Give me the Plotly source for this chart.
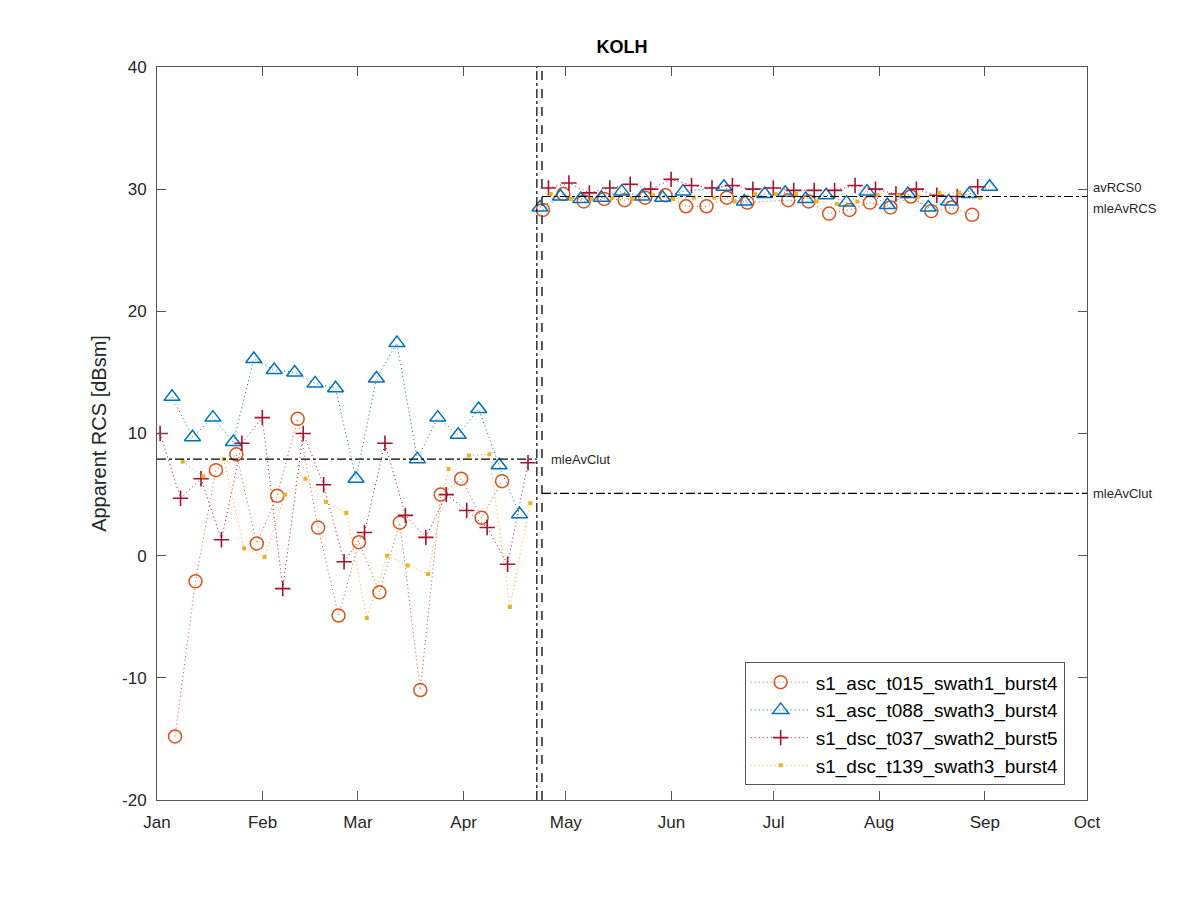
import plotly.graph_objects as go

YEAR = "2019"

# ---- data (dates as MM-DD, values in dBsm) ----
t015_left_dates = ["01-06","01-12","01-18","01-24","01-30","02-05","02-11","02-17","02-23",
                   "03-01","03-07","03-13","03-19","03-25","03-31","04-06","04-12"]
t015_left_vals = [-14.8, -2.1, 7.0, 8.3, 1.0, 4.9, 11.2, 2.3, -4.9, 1.1, -3.0, 2.7, -11.0, 5.0, 6.3, 3.1, 6.1]
t015_right_dates = ["04-24","04-30","05-06","05-12","05-18","05-24","05-30","06-05","06-11","06-17","06-23",
                    "07-05","07-11","07-17","07-23","07-29","08-04","08-10","08-16","08-22","08-28"]
t015_right_vals = [28.3, 29.6, 29.0, 29.2, 29.1, 29.3, 29.5, 28.6, 28.6, 29.3, 28.9,
                   29.1, 29.0, 28.0, 28.3, 28.9, 28.5, 29.4, 28.2, 28.5, 27.9]

t088_left_dates = ["01-05","01-11","01-17","01-23","01-29","02-04","02-10","02-16","02-22","02-28",
                   "03-06","03-12","03-18","03-24","03-30","04-05","04-11","04-17"]
t088_left_vals = [13.0, 9.7, 11.3, 9.3, 16.1, 15.2, 15.0, 14.1, 13.7, 6.3, 14.5, 17.4, 7.9, 11.3, 9.9, 12.0, 7.4, 3.4]
t088_right_dates = ["04-23","04-29","05-05","05-11","05-17","05-23","05-29","06-04","06-16","06-22","06-28",
                    "07-04","07-10","07-16","07-22","07-28","08-03","08-09","08-15","08-21","08-27","09-02"]
t088_right_vals = [28.5, 29.4, 29.2, 29.3, 29.8, 29.4, 29.3, 29.8, 30.2, 29.0, 29.6,
                   29.7, 29.2, 29.5, 28.9, 29.8, 28.7, 29.6, 28.5, 29.0, 29.6, 30.2]

t037_left_dates = ["01-01","01-07","01-13","01-19","01-25","01-31","02-06","02-12","02-18","02-24",
                   "03-02","03-08","03-14","03-20","03-26","04-01","04-07","04-13","04-19"]
t037_left_vals = [10.0, 4.7, 6.3, 1.3, 9.2, 11.3, -2.7, 10.0, 5.8, -0.5, 1.9, 9.2, 3.3, 1.5, 5.0, 3.7, 2.3, -0.7, 7.6]
t037_right_dates = ["04-25","05-01","05-07","05-13","05-19","05-25","05-31","06-06","06-12","06-18","06-24",
                    "06-30","07-06","07-12","07-18","07-24","07-30","08-05","08-11","08-17","08-23","08-29"]
t037_right_vals = [30.1, 30.5, 29.7, 30.1, 30.4, 30.0, 30.8, 30.3, 30.1, 30.3, 30.0,
                   30.1, 29.9, 29.9, 29.9, 30.3, 30.0, 29.6, 30.0, 29.5, 29.4, 30.2]

t139_left_dates = ["01-08","01-14","01-20","01-26","02-01","02-07","02-13","02-19","02-25",
                   "03-03","03-09","03-15","03-21","03-27","04-02","04-08","04-14","04-20"]
t139_left_vals = [7.7, 6.5, 7.9, 0.6, -0.1, 5.0, 6.3, 4.4, 3.5, -5.1, 0.0, -0.8, -1.5, 7.1, 8.2, 8.3, -4.2, 4.3]
t139_right_dates = ["04-26","05-02","05-08","05-14","05-20","05-26","06-01","06-07","06-13","06-19","06-25",
                    "07-01","07-07","07-13","07-19","07-25","07-31","08-06","08-12","08-18","08-24","08-30"]
t139_right_vals = [29.6, 29.2, 29.2, 29.3, 29.2, 29.5, 29.2, 29.3, 29.3, 29.0, 29.6,
                   29.6, 29.6, 29.0, 28.8, 29.0, 29.5, 29.5, 29.4, 29.7, 29.7, 29.3]

y_tick_vals = [-20, -10, 0, 10, 20, 30, 40]
y_tick_text = ["-20", "-10", "0", "10", "20", "30", "40"]

split_clutter_end = "2019-04-22 12:00"
split_target_start = "2019-04-24 00:00"
mleAvClut_left = 7.9
mleAvClut_right = 5.1
mleAvRCS = 29.4
avRCS0_label_y = 30.1
mleAvRCS_label_y = 28.4

series = [
    ("s1_asc_t015_swath1_burst4", t015_left_dates, t015_left_vals, t015_right_dates, t015_right_vals,
     "07:00", "#D95319", dict(symbol="circle-open", size=13, line=dict(width=1.5))),
    ("s1_asc_t088_swath3_burst4", t088_left_dates, t088_left_vals, t088_right_dates, t088_right_vals,
     "10:00", "#0072BD", dict(symbol="triangle-up-open", size=14, line=dict(width=1.5))),
    ("s1_dsc_t037_swath2_burst5", t037_left_dates, t037_left_vals, t037_right_dates, t037_right_vals,
     "22:00", "#A2142F", dict(symbol="cross-thin-open", size=11, line=dict(width=1.6))),
    ("s1_dsc_t139_swath3_burst4", t139_left_dates, t139_left_vals, t139_right_dates, t139_right_vals,
     "14:00", "#EDB120", dict(symbol="square", size=4, line=dict(width=0))),
]

fig = go.Figure()
for name, ld, lv, rd, rv, tm, color, mk in series:
    xs = [f"{YEAR}-{d} {tm}" for d in ld] + [None] + [f"{YEAR}-{d} {tm}" for d in rd]
    ys = list(lv) + [None] + list(rv)
    marker = dict(mk)
    marker["color"] = color
    marker["line"] = dict(mk["line"], color=color)
    fig.add_trace(go.Scatter(
        x=xs, y=ys, name=name, mode="lines+markers",
        line=dict(color=color, width=1, dash="1px,3px"),
        marker=marker, connectgaps=False,
    ))

# reference lines
shapes = [
    dict(type="line", xref="x", yref="paper", x0=split_clutter_end, x1=split_clutter_end, y0=0, y1=1,
         line=dict(color="black", width=1.2, dash="dashdot")),
    dict(type="line", xref="x", yref="paper", x0=split_target_start, x1=split_target_start, y0=0, y1=1,
         line=dict(color="#555555", width=2, dash="dash")),
    dict(type="line", xref="x", yref="y", x0="2019-01-01", x1=split_clutter_end,
         y0=mleAvClut_left, y1=mleAvClut_left, line=dict(color="black", width=1.2, dash="dashdot")),
    dict(type="line", xref="x", yref="y", x0=split_target_start, x1="2019-10-01",
         y0=mleAvClut_right, y1=mleAvClut_right, line=dict(color="black", width=1.2, dash="dashdot")),
    dict(type="line", xref="x", yref="y", x0=split_target_start, x1="2019-10-01",
         y0=mleAvRCS, y1=mleAvRCS, line=dict(color="black", width=1.2, dash="dashdot")),
]

ann_font = dict(family="Liberation Sans, Arial, sans-serif", size=13, color="#262626")
annotations = [
    dict(text="mleAvClut", xref="paper", yref="y", x=0.422, y=mleAvClut_left, xanchor="left",
         yanchor="middle", showarrow=False, font=ann_font),
    dict(text="mleAvClut", xref="paper", yref="y", x=1.004, y=mleAvClut_right, xanchor="left",
         yanchor="middle", showarrow=False, font=ann_font),
    dict(text="avRCS0", xref="paper", yref="y", x=1.004, y=avRCS0_label_y, xanchor="left",
         yanchor="middle", showarrow=False, font=ann_font),
    dict(text="mleAvRCS", xref="paper", yref="y", x=1.004, y=mleAvRCS_label_y, xanchor="left",
         yanchor="middle", showarrow=False, font=ann_font),
]

fig.update_layout(
    width=1200, height=900,
    margin=dict(l=149, r=121, t=59, b=108, autoexpand=False),
    paper_bgcolor="white", plot_bgcolor="white",
    font=dict(family="Liberation Sans, Arial, sans-serif", size=16, color="#262626"),
    title=dict(text="<b>KOLH</b>", x=0.5, xref="paper", xanchor="center",
               y=1 - 39 / 900, yref="container", yanchor="middle", automargin=False,
               font=dict(size=18, color="black")),
    shapes=shapes, annotations=annotations,
    showlegend=True,
    legend=dict(x=0.976, y=0.02, xanchor="right", yanchor="bottom",
                bgcolor="white", bordercolor="#555555", borderwidth=1,
                font=dict(size=19, color="black"), tracegroupgap=0,
                itemwidth=60),
)
fig.update_xaxes(
    range=["2019-01-01", "2019-10-01"], tickformat="%b", dtick="M1", tick0="2019-01-01",
    showgrid=False, zeroline=False, showline=True, linecolor="#555555", linewidth=1,
    mirror="ticks", ticks="inside", ticklen=9, tickcolor="#555555",
    tickfont=dict(size=17), automargin=False, ticklabelstandoff=7,
)
fig.update_yaxes(
    range=[-20, 40], tickmode="array", tickvals=y_tick_vals, ticktext=y_tick_text,
    showgrid=False, zeroline=False, showline=True, linecolor="#555555", linewidth=1,
    mirror="ticks", ticks="inside", ticklen=9, tickcolor="#555555",
    tickfont=dict(size=17), automargin=False, ticklabelstandoff=6,
    title=dict(text="Apparent RCS [dBsm]", font=dict(size=20), standoff=10),
)

fig.write_html("out.html")
